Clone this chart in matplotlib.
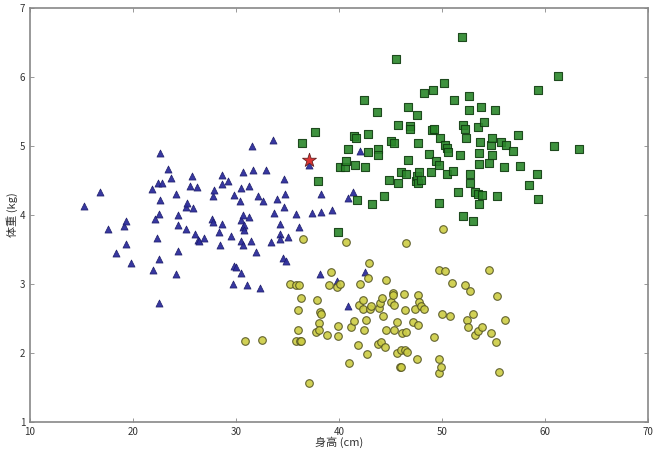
import numpy as np
import matplotlib
matplotlib.use("Agg")
import matplotlib.pyplot as plt

plt.rcParams['font.family'] = ['Noto Sans CJK SC', 'DejaVu Sans']

# blue triangles (height cm, weight kg)
tri = [
    (15.21, 4.13), (16.77, 4.33), (17.54, 3.80), (18.35, 3.45), (19.13, 3.84), (19.32, 3.91), (19.32, 3.58), (19.8, 3.30),
    (21.84, 4.38), (21.97, 3.21), (22.14, 3.94), (22.33, 3.66), (22.43, 4.47), (22.55, 4.02), (22.55, 3.36), (22.55, 2.72),
    (22.62, 4.90), (22.62, 4.22), (22.82, 4.46), (23.43, 4.66), (23.72, 4.53), (24.14, 4.31), (24.14, 3.14), (24.34, 4.0),
    (24.4, 3.86), (24.4, 3.48), (25.11, 3.79), (25.15, 4.12), (25.27, 4.17), (25.57, 4.42), (25.73, 4.57), (25.86, 4.10),
    (26.05, 3.72), (26.21, 4.41), (26.34, 3.64), (26.41, 3.62), (26.86, 3.67), (27.64, 3.94), (27.73, 4.27), (27.8, 3.90),
    (27.89, 4.36), (28.32, 3.75), (28.42, 3.56), (28.67, 4.58), (28.67, 4.45), (28.67, 3.87), (29.19, 4.50), (29.51, 3.70),
    (29.68, 3.0), (29.78, 3.26), (29.81, 4.29), (30.03, 3.25), (30.36, 4.20), (30.45, 4.39), (30.45, 3.93), (30.45, 3.62),
    (30.45, 3.16), (30.65, 3.56), (30.68, 4.62), (30.71, 4.0), (30.71, 3.82), (30.75, 3.85), (30.81, 3.78), (31.1, 2.99),
    (31.23, 3.97), (31.26, 4.42), (31.49, 3.63), (31.55, 5.0), (31.68, 4.65), (31.94, 3.47), (32.17, 4.27), (32.33, 2.94),
    (32.59, 4.20), (32.91, 4.65), (33.4, 3.61), (33.6, 5.09), (33.69, 4.03), (33.98, 4.23), (34.27, 3.87), (34.27, 3.73),
    (34.3, 3.65), (34.59, 3.38), (34.69, 4.52), (34.69, 4.11), (34.76, 4.31), (34.88, 3.34), (35.02, 3.68), (35.85, 4.01),
    (36.12, 3.82), (37.05, 4.72), (37.38, 4.03), (38.2, 3.15), (38.28, 4.04), (38.3, 4.31), (39.32, 4.07), (39.8, 3.05),
    (40.84, 2.68), (40.85, 4.24), (41.4, 4.33), (42.0, 4.93), (42.5, 3.17),
]

# green squares
sq = [
    (36.4, 5.05), (37.7, 5.2), (38.0, 4.50), (39.9, 3.76), (40.1, 4.69), (40.6, 4.70), (40.65, 4.78), (40.85, 4.96),
    (41.5, 5.14), (41.65, 5.12), (41.55, 4.72), (41.7, 4.22), (42.4, 5.66), (42.55, 4.69), (42.8, 5.18), (42.8, 4.92),
    (43.2, 4.16), (43.7, 5.5), (43.8, 4.96), (43.8, 4.87), (44.4, 4.27), (44.9, 4.51), (45.0, 5.07), (45.3, 5.04),
    (45.5, 6.26), (45.7, 5.31), (45.7, 4.46), (46.0, 4.63), (46.5, 4.60), (46.7, 5.56), (46.7, 4.79), (46.9, 5.29),
    (46.9, 5.25), (47.5, 4.50), (47.6, 5.45), (47.6, 4.57), (47.7, 5.05), (47.7, 4.46), (47.8, 4.62), (47.95, 4.51),
    (48.25, 5.77), (48.7, 4.89), (48.9, 4.62), (49.0, 5.23), (49.1, 5.81), (49.2, 5.25), (49.45, 4.78), (49.7, 4.72),
    (49.7, 4.17), (49.8, 5.12), (50.2, 5.91), (50.3, 5.02), (50.45, 4.97), (50.5, 4.59), (50.55, 4.92), (51.1, 4.64),
    (51.2, 5.66), (51.6, 4.34), (51.7, 4.87), (51.97, 6.58), (52.0, 5.30), (52.0, 3.98), (52.2, 5.25), (52.3, 5.12),
    (52.6, 5.73), (52.6, 5.52), (52.7, 4.60), (52.7, 4.46), (53.0, 3.92), (53.2, 4.33), (53.5, 5.27), (53.5, 4.31),
    (53.55, 4.90), (53.55, 4.74), (53.6, 4.16), (53.7, 5.06), (53.8, 5.56), (53.85, 4.29), (54.1, 5.35), (54.6, 4.76),
    (54.8, 5.02), (54.85, 5.12), (54.9, 4.87), (55.1, 5.52), (55.3, 4.27), (55.7, 5.06), (56.05, 4.70), (56.2, 5.02),
    (56.9, 4.93), (57.4, 5.16), (57.6, 4.71), (58.4, 4.43), (59.2, 4.60), (59.3, 5.81), (59.3, 4.23), (60.9, 5.0),
    (61.3, 6.01), (63.3, 4.95),
]

# yellow circles
circ = [
    (30.87, 2.17), (32.52, 2.19), (35.27, 3.0), (35.8, 2.99), (36.09, 2.98), (36.3, 2.8), (36.5, 3.65), (36.05, 2.63),
    (36.0, 2.34), (35.83, 2.18), (36.2, 2.17), (36.34, 2.17), (37.06, 1.57), (37.74, 2.30), (37.83, 2.77), (38.03, 2.44),
    (38.03, 2.34), (38.18, 2.60), (38.28, 2.57), (38.83, 2.26), (39.06, 2.98), (39.22, 3.17), (39.83, 2.95), (39.9, 2.39),
    (39.9, 2.24), (40.07, 3.0), (40.7, 3.61), (41.0, 1.86), (41.14, 2.37), (41.43, 2.46), (41.88, 2.11), (41.97, 2.69),
    (42.0, 3.0), (42.3, 2.77), (42.33, 2.64), (42.43, 2.34), (42.6, 2.48), (42.72, 1.98), (42.8, 3.08), (42.9, 3.31),
    (42.98, 2.64), (43.14, 2.68), (43.76, 2.13), (43.88, 2.65), (44.0, 2.72), (44.08, 2.16), (44.2, 2.80), (44.3, 2.54),
    (44.5, 2.09), (44.56, 2.34), (44.6, 3.06), (45.08, 2.74), (45.2, 2.87), (45.2, 2.84), (45.31, 2.33), (45.37, 2.69),
    (45.6, 2.45), (45.66, 2.0), (45.9, 1.80), (46.02, 2.04), (46.05, 1.80), (46.09, 2.29), (46.3, 2.85), (46.38, 2.04),
    (46.44, 2.62), (46.5, 3.60), (46.53, 2.31), (46.6, 2.02), (47.18, 2.45), (47.35, 2.64), (47.6, 1.92), (47.64, 2.41),
    (47.7, 2.84), (47.8, 2.74), (47.96, 2.68), (48.28, 2.64), (49.26, 2.23), (49.68, 1.91), (49.7, 3.21), (49.74, 1.71),
    (49.9, 1.79), (49.97, 2.57), (50.1, 3.79), (50.3, 3.19), (50.75, 2.54), (51.0, 3.02), (52.2, 2.99), (52.46, 2.48),
    (52.55, 2.38), (52.7, 2.90), (52.98, 2.57), (53.17, 2.26), (53.47, 2.32), (53.85, 2.38), (54.6, 3.20), (54.79, 2.29),
    (55.27, 2.16), (55.3, 2.83), (55.5, 1.72), (56.1, 2.48),
]

star = (37.05, 4.80)

tri = np.array(tri)
sq = np.array(sq)
circ = np.array(circ)

fig = plt.figure(figsize=(6.6, 4.5), dpi=100)
ax = fig.add_axes([30/660, 1-422/450, 618/660, 414/450])

ax.scatter(tri[:, 0], tri[:, 1], marker='^', s=26, c='#2d2d9c', edgecolors='#1a1a66', linewidths=0.5, alpha=0.95)
ax.scatter(sq[:, 0], sq[:, 1], marker='s', s=30, c='#2a862a', edgecolors='#103c10', linewidths=0.8, alpha=0.9)
ax.scatter(circ[:, 0], circ[:, 1], marker='o', s=30, c='#cccc44', edgecolors='#555522', linewidths=0.8, alpha=0.9)
ax.scatter([star[0]], [star[1]], marker='*', s=110, c='#dd3333', edgecolors='#662222', linewidths=0.6, zorder=5)

ax.set_xlim(10, 70)
ax.set_ylim(1, 7)
ax.set_xticks(range(10, 71, 10))
ax.set_yticks(range(1, 8))
ax.tick_params(direction='in', length=3, width=0.6, colors='#888888', labelcolor='#333333',
               labelsize=7, top=True, right=True)
for sp in ax.spines.values():
    sp.set_color('#888888')
    sp.set_linewidth(1.2)

ax.set_xlabel('身高 (cm)', fontsize=8, color='#333333', labelpad=0)
ax.set_ylabel('体重 (kg)', fontsize=8, color='#333333', labelpad=1)

fig.savefig('out.png', dpi=100)
